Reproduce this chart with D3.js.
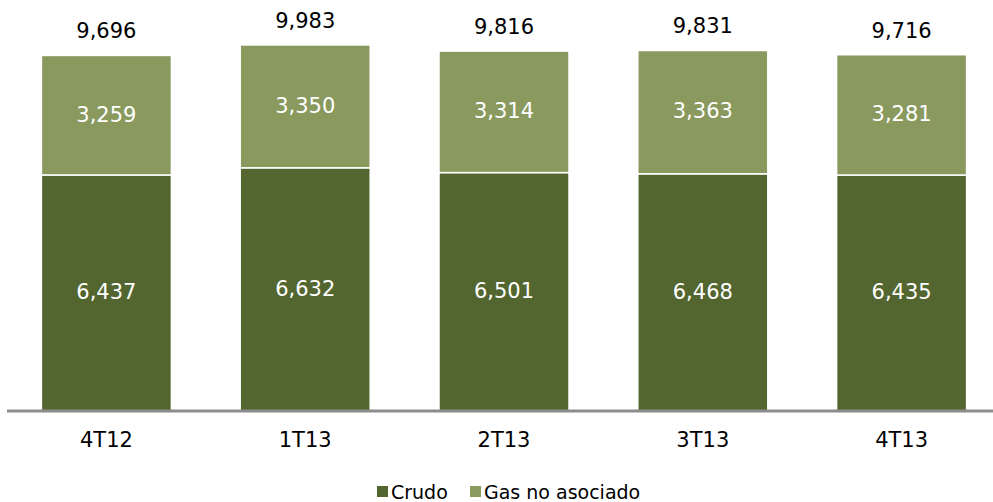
<!DOCTYPE html>
<html lang="es">
<head>
<meta charset="UTF-8" />
<title>Crudo y gas no asociado</title>
<script src="https://cdn.jsdelivr.net/npm/d3@7"></script>
<style>
  body { margin: 0; background: #fff; }
  text { font-family: "DejaVu Sans", sans-serif; }
</style>
</head>
<body>
<div id="chart"></div>
<script>
// data
const periods = ["4T12", "1T13", "2T13", "3T13", "4T13"];
const crudo = [6437, 6632, 6501, 6468, 6435];
const gas = [3259, 3350, 3314, 3363, 3281];
const totals = [9696, 9983, 9816, 9831, 9716];
const seriesNames = ["Crudo", "Gas no asociado"];
const colors = ["#546630", "#8a9a5f"];

const W = 993, H = 502;
const baseY = 411;

const svg = d3.select("#chart").append("svg")
  .attr("width", W).attr("height", H);

const x = d3.scaleBand()
  .domain(periods)
  .range([7, 1001])
  .paddingInner(0.346)
  .paddingOuter(0.173);

const y = d3.scaleLinear()
  .domain([0, 10000])
  .range([baseY, 44.3]);

const rows = periods.map((p, i) => ({ period: p, Crudo: crudo[i], "Gas no asociado": gas[i], total: totals[i] }));
const stacked = d3.stack().keys(seriesNames)(rows);

const fmt = d3.format(",");

// bars
const layer = svg.append("g").selectAll("g")
  .data(stacked)
  .join("g")
  .attr("fill", (d, i) => colors[i]);

layer.selectAll("rect")
  .data(d => d)
  .join("rect")
  .attr("x", d => x(d.data.period))
  .attr("y", d => y(d[1]))
  .attr("width", x.bandwidth())
  .attr("height", d => y(d[0]) - y(d[1]))
  .attr("stroke", "#fff")
  .attr("stroke-width", 1.5);

// values inside segments
layer.selectAll("text")
  .data(d => d)
  .join("text")
  .attr("x", d => x(d.data.period) + x.bandwidth() / 2)
  .attr("y", d => (y(d[0]) + y(d[1])) / 2)
  .attr("dy", "0.3em")
  .attr("text-anchor", "middle")
  .attr("fill", "#fff")
  .style("font-size", "21px")
  .text(d => fmt(d[1] - d[0]));

// totals above
svg.append("g").selectAll("text")
  .data(rows)
  .join("text")
  .attr("x", d => x(d.period) + x.bandwidth() / 2)
  .attr("y", d => y(d.total) - 17)
  .attr("text-anchor", "middle")
  .attr("fill", "#000")
  .style("font-size", "21px")
  .text(d => fmt(d.total));

// x axis
const axis = svg.append("g")
  .attr("transform", `translate(0,${baseY})`)
  .call(d3.axisBottom(x).tickSize(0).tickPadding(21));
axis.select(".domain").remove();
axis.append("line")
  .attr("x1", 7).attr("x2", W)
  .attr("stroke", "#8c8c8c")
  .attr("stroke-width", 3);
axis.selectAll(".tick text")
  .attr("fill", "#000")
  .style("font-size", "21px")
  .style("font-family", "DejaVu Sans, sans-serif");

// legend
const legendX = [377, 470];
const legend = svg.append("g").selectAll("g")
  .data(seriesNames)
  .join("g")
  .attr("transform", (d, i) => `translate(${legendX[i]},492)`);
legend.append("rect")
  .attr("x", 0).attr("y", -6)
  .attr("width", 11).attr("height", 11)
  .attr("fill", (d, i) => colors[i]);
legend.append("text")
  .attr("x", 14)
  .attr("dy", "0.36em")
  .attr("fill", "#000")
  .style("font-size", "19px")
  .text(d => d);
</script>
</body>
</html>
